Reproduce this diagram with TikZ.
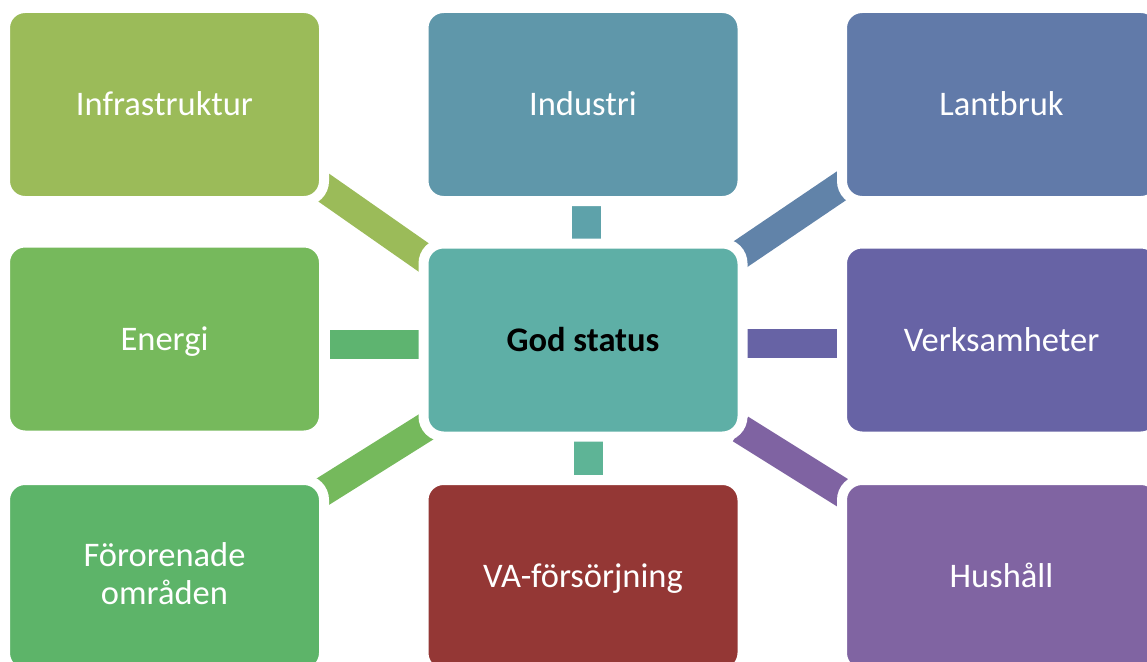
\documentclass[tikz,border=0pt]{standalone}
\usepackage{fontspec}
\setmainfont{Carlito}
\usetikzlibrary{backgrounds}
\definecolor{cInfra}{HTML}{9BBB59}
\definecolor{cInfraBar}{HTML}{9BBB59}
\definecolor{cInd}{HTML}{5F97AA}
\definecolor{cIndBar}{HTML}{5EA2AA}
\definecolor{cLant}{HTML}{617AA9}
\definecolor{cLantBar}{HTML}{6183A9}
\definecolor{cGod}{HTML}{5EAFA6}
\definecolor{cEn}{HTML}{76B95C}
\definecolor{cEnBar}{HTML}{5EB470}
\definecolor{cVerk}{HTML}{6763A5}
\definecolor{cVerkBar}{HTML}{6763A5}
\definecolor{cFor}{HTML}{5DB469}
\definecolor{cForBar}{HTML}{75B95C}
\definecolor{cVA}{HTML}{943735}
\definecolor{cVABar}{HTML}{5EB496}
\definecolor{cHus}{HTML}{8064A2}
\definecolor{cHusBar}{HTML}{7F63A2}
\begin{document}
\begin{tikzpicture}[x=1pt,y=-1pt,
  box/.style={rectangle, rounded corners=20pt, draw=white, line width=10pt,
    minimum width=319pt, minimum height=193pt, inner sep=0pt, text=white,
    font=\fontsize{34.5}{37.5}\selectfont, align=center},
  oneline/.style={text height=29.2pt, text depth=7pt},
  twoline/.style={text height=62pt, text depth=7pt},
  bar/.style={line width=29pt, line cap=butt}]
\useasboundingbox (0,0) rectangle (1147,661);
% boxes
\node[box, oneline, fill=cInfra] (infra) at (164.5,104.5) {Infrastruktur};
\node[box, oneline, fill=cInd] (ind) at (583,104.5) {Industri};
\node[box, oneline, fill=cLant] (lant) at (1001.5,104.5) {Lantbruk};
\node[box, oneline, fill=cEn] (energi) at (164.5,339) {Energi};
\node[box, oneline, fill=cGod, text=black, font=\fontsize{34.5}{37.5}\selectfont\bfseries] (god) at (583,340) {God status};
\node[box, oneline, fill=cVerk] (verk) at (1001.5,340) {Verksamheter};
\node[box, twoline, fill=cFor] (foro) at (164.5,576.5) {Förorenade\\områden};
\node[box, oneline, fill=cVA] (va) at (583,576.5) {VA-försörjning};
\node[box, oneline, fill=cHus] (hus) at (1001.5,576.5) {Hushåll};
% connector ends
\coordinate (gInfra) at (445,272.4);   \coordinate (oInfra) at (300,171);
\coordinate (gInd) at (586.5,255);     \coordinate (oInd) at (586.5,190);
\coordinate (gLant) at (738.5,255.5);  \coordinate (oLant) at (862.7,171.4);
\coordinate (gEn) at (440,344.5);      \coordinate (oEn) at (330,344.5);
\coordinate (gVerk) at (747,343.5);    \coordinate (oVerk) at (860,343.5);
\coordinate (gFor) at (445,415);       \coordinate (oFor) at (300,506);
\coordinate (gVA) at (588.5,425);      \coordinate (oVA) at (588.5,492);
\coordinate (gHus) at (740.5,429);     \coordinate (oHus) at (867.7,508.5);
\begin{scope}[on background layer]
\draw[bar, cInfraBar] (gInfra) -- (oInfra);
\draw[bar, cIndBar] (gInd) -- (oInd);
\draw[bar, cLantBar] (gLant) -- (oLant);
\draw[bar, cEnBar] (gEn) -- (oEn);
\draw[bar, cVerkBar] (gVerk) -- (oVerk);
\draw[bar, cForBar] (gFor) -- (oFor);
\draw[bar, cVABar] (gVA) -- (oVA);
\draw[bar, cHusBar] (gHus) -- (oHus);
\end{scope}
\end{tikzpicture}
\end{document}
